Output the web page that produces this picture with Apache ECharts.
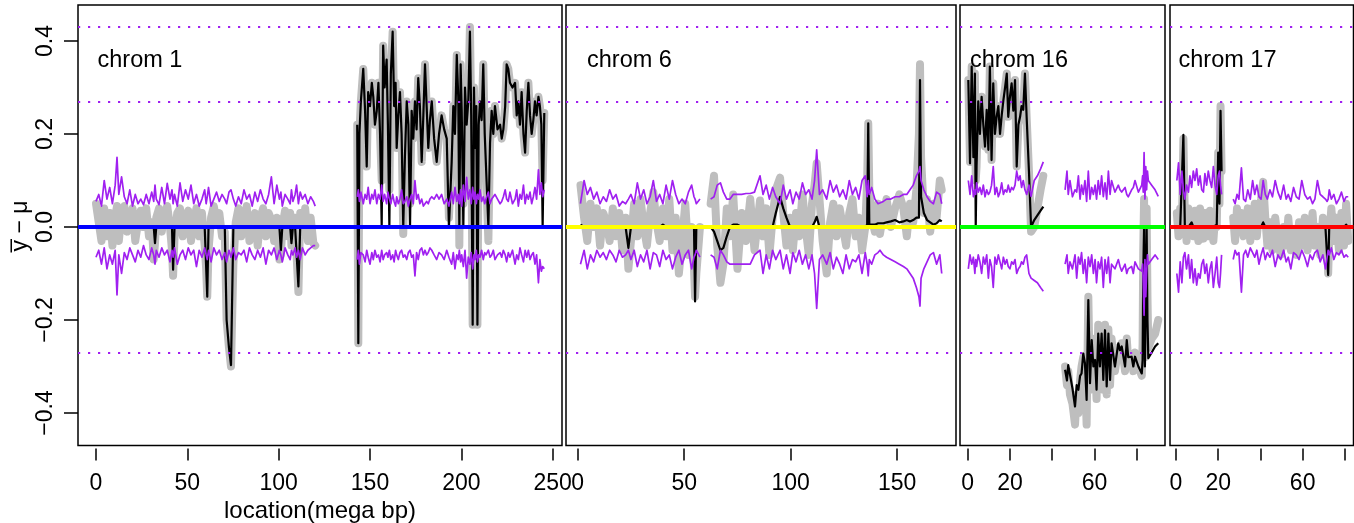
<!DOCTYPE html>
<html><head><meta charset="utf-8">
<script src="https://cdn.jsdelivr.net/npm/echarts@6/dist/echarts.min.js"></script>
<style>html,body{margin:0;padding:0;background:#fff}#c{width:1354px;height:523px}</style>
</head><body><div id="c"></div>
<script>
// ================= DATA =================
const chromNames = ['chrom 1', 'chrom 6', 'chrom 16', 'chrom 17'];
const zeroColors = ['#0000FF', '#FFFF00', '#00FF00', '#FF0000'];
const thresholdLevels = [0.427, 0.271, -0.274];
const zeroLevel = 0;
const yTicks = [-0.4, -0.2, 0, 0.2, 0.4];
const xTicks1 = [0, 50, 100, 150, 200, 250];
const xLabels1 = [0, 50, 100, 150, 200, 250];
const xTicks6 = [0, 50, 100, 150];
const xLabels6 = [0, 50, 100, 150];
const xTicks16 = [0, 20, 40, 60, 80];
const xLabels16 = [0, 20, 60];
const xTicks17 = [0, 20, 40, 60, 80];
const xLabels17 = [0, 20, 60];
const xTitle = 'location(mega bp)';
const yTitle = 'y\u0305 \u2212 \u03bc';

// ---- chrom 1, p arm ----
const chr1aX = [0,1.5,3,4.5,6,7.5,9,10.5,11.5,12.5,
14,15.5,17,18.5,20,21.5,23,24.5,26,27.5,
29,30.5,31.6,32.3,33,34.5,36,37.5,39,40.5,
41.6,42.2,43,44.5,46,47.5,49,50.5,52,53.5,
55,56.5,58,59.5,60.3,60.9,61.6,63,64.5,66,
67.5,69,70.5,71.5,72.8,73.9,75.2,76.5,78,79.5,
81,82.5,84,85.5,87,88.5,90,91.5,93,94.5,
96,97.5,99,100.4,101.2,102,103.5,105,106.3,107,
107.8,109,109.8,110.8,111.8,113,114.5,116,117.5,119,
120];
const chr1aGray = [0.05,0.01,-0.03,0.04,-0.02,0.03,-0.04,0.02,0.045,-0.03,
0.03,0.045,-0.01,0.02,0.04,-0.03,0.01,0.035,0.0,0.04,
-0.02,0.01,-0.07,-0.035,0.02,0.04,-0.01,0.03,0.045,0.0,
-0.05,-0.105,-0.02,0.03,0.04,-0.02,0.02,0.035,-0.03,0.01,
0.04,-0.02,0.03,-0.04,-0.09,-0.15,-0.05,0.02,0.045,0.01,
0.03,-0.02,-0.01,-0.2,-0.26,-0.3,-0.08,0.01,0.04,-0.02,
0.02,0.045,-0.03,0.01,0.03,-0.04,0.02,0.04,-0.02,0.03,
0.015,-0.03,0.02,-0.07,-0.06,0.0,0.035,-0.02,0.03,-0.04,
-0.02,0.02,-0.06,-0.14,0.03,-0.01,0.04,-0.03,0.02,-0.035,
-0.04];
const chr1aBlack = [0,0,0,0,0,0,0,0,0,0,
0,0,0,0,0,0,0,0,0,0,
0,0,0,-0.035,0,0,0,0,0,0,
0,-0.092,0,0,0,0,0,0,0,0,
0,0,0,0,0,-0.15,0,0,0,0,
0,0,0,-0.2,-0.26,-0.297,0,0,0,0,
0,0,0,0,0,0,0,0,0,0,
0,0,0,0,-0.05,0,0,0,0,-0.035,
0,0,0,-0.128,0,0,0,0,0,0,
0];
const chr1aUp = [0.055,0.07,0.045,0.1,0.06,0.085,0.05,0.09,0.15,0.07,
0.108,0.065,0.05,0.08,0.045,0.07,0.05,0.06,0.048,0.07,
0.05,0.075,0.055,0.09,0.06,0.048,0.085,0.05,0.094,0.06,
0.08,0.05,0.07,0.045,0.095,0.055,0.08,0.06,0.09,0.05,
0.07,0.045,0.06,0.08,0.05,0.065,0.085,0.045,0.06,0.075,
0.055,0.07,0.06,0.05,0.075,0.08,0.06,0.045,0.065,0.05,
0.08,0.06,0.07,0.045,0.075,0.055,0.08,0.06,0.05,0.07,
0.108,0.05,0.09,0.06,0.075,0.045,0.07,0.06,0.05,0.08,
0.055,0.07,0.09,0.05,0.075,0.06,0.07,0.05,0.065,0.055,
0.045];
const chr1aLow = [-0.065,-0.05,-0.08,-0.045,-0.09,-0.06,-0.08,-0.05,-0.146,-0.06,
-0.1,-0.055,-0.07,-0.045,-0.06,-0.075,-0.05,-0.065,-0.04,-0.06,
-0.07,-0.045,-0.06,-0.08,-0.05,-0.065,-0.045,-0.06,-0.05,-0.075,
-0.05,-0.065,-0.045,-0.08,-0.06,-0.05,-0.07,-0.045,-0.06,-0.05,
-0.085,-0.05,-0.065,-0.045,-0.06,-0.07,-0.05,-0.075,-0.045,-0.06,
-0.05,-0.07,-0.055,-0.075,-0.05,-0.065,-0.045,-0.07,-0.055,-0.06,
-0.05,-0.075,-0.045,-0.06,-0.07,-0.05,-0.065,-0.045,-0.08,-0.05,
-0.06,-0.045,-0.07,-0.05,-0.06,-0.075,-0.045,-0.06,-0.07,-0.05,
-0.06,-0.045,-0.065,-0.05,-0.07,-0.045,-0.06,-0.05,-0.045,-0.04,
-0.04];

// ---- chrom 1, q arm ----
const chr1bX = [143,143.6,144.2,145,146.3,147.3,148.2,149,150,151,
151.8,152.7,153.7,154.6,155.5,156.4,157.2,158,159.1,159.8,
160.6,161.4,162.4,163.2,164,164.6,165.5,166.4,167.3,168.2,
169.1,170.1,171,171.9,172.8,173.7,174.6,175.5,176.4,177.3,
178.3,179.2,180.1,181,181.9,182.8,183.8,185.1,186.5,187.8,
189.2,190.6,192,193.2,194.7,195.6,196.5,197.5,198.3,198.9,
199.6,200.2,201.1,202,202.9,203.8,204.7,205.4,206.2,206.9,
207.5,208.2,208.8,209.5,210.2,211.1,212,212.8,213.5,214.8,
215.7,216.6,217.5,218.4,219.8,221.2,222.1,223,224,224.8,
225.7,226.6,228,229.4,230.3,231.2,232.1,233,234,234.9,
235.8,236.7,237.6,238.5,239.4,240.3,241.2,242.2,243,243.8,
244.5,245.4];
const chr1bGray = [0.22,-0.25,0.2,0.27,0.34,0.25,0.13,0.29,0.26,0.31,
0.28,0.22,0.25,0.31,0.2,0.1,0.39,0.3,0.36,0.22,
0.08,0.33,0.42,0.26,0.31,0.17,0.24,0.29,0.2,-0.015,
0.15,0.27,0.22,0.05,0.25,0.19,0.27,0.21,0.32,0.26,
0.14,0.24,0.35,0.26,0.17,0.23,0.27,0.19,0.14,0.2,
0.24,0.21,0.19,0.02,0.14,0.26,0.2,0.37,0.28,-0.04,
0.35,0.25,0.05,0.3,0.22,0.27,0.43,0.24,-0.21,0.3,
0.17,0.26,-0.21,0.22,0.27,0.23,0.35,0.2,0.2,-0.03,
0.18,0.25,0.2,0.26,0.21,0.22,0.19,0.21,0.26,0.35,
0.34,0.31,0.3,0.31,0.24,0.27,0.22,0.29,0.2,0.16,
0.25,0.31,0.24,0.2,0.23,0.27,0.24,0.28,0.26,0.22,
0.1,0.245];
const chr1bBlack = [0.22,-0.25,0.2,0.27,0.34,0.25,0.13,0.29,0.26,0.31,
0.28,0.22,0.25,0.31,0.2,0.0,0.39,0.3,0.36,0.22,
0.0,0.33,0.42,0.26,0.31,0.17,0.24,0.29,0.2,0.0,
0.15,0.27,0.22,0.0,0.25,0.19,0.27,0.21,0.32,0.26,
0.14,0.24,0.35,0.26,0.17,0.23,0.27,0.19,0.14,0.2,
0.24,0.21,0.19,0.0,0.14,0.26,0.2,0.37,0.28,0.0,
0.35,0.25,0.0,0.3,0.22,0.27,0.42,0.24,-0.21,0.3,
0.17,0.26,-0.21,0.22,0.27,0.23,0.35,0.2,0.2,0.0,
0.18,0.25,0.2,0.26,0.21,0.22,0.19,0.21,0.26,0.35,
0.34,0.31,0.3,0.31,0.24,0.27,0.22,0.29,0.2,0.16,
0.25,0.31,0.24,0.2,0.23,0.27,0.24,0.28,0.26,0.22,
0.0,0.245];
const chr1bUp = [0.065,0.08,0.055,0.075,0.05,0.07,0.06,0.085,0.05,0.07,
0.06,0.08,0.05,0.07,0.06,0.09,0.055,0.07,0.05,0.075,
0.06,0.05,0.07,0.055,0.045,0.065,0.05,0.06,0.08,0.05,
0.055,0.065,0.045,0.06,0.07,0.05,0.1,0.06,0.07,0.05,
0.06,0.045,0.05,0.055,0.05,0.06,0.065,0.06,0.07,0.06,
0.07,0.05,0.06,0.045,0.075,0.05,0.085,0.055,0.07,0.05,
0.08,0.045,0.09,0.055,0.107,0.06,0.08,0.05,0.085,0.06,
0.075,0.05,0.07,0.06,0.08,0.055,0.065,0.05,0.06,0.075,
0.05,0.06,0.065,0.07,0.06,0.05,0.055,0.065,0.08,0.06,
0.055,0.075,0.05,0.06,0.08,0.045,0.07,0.06,0.09,0.05,
0.07,0.06,0.075,0.05,0.065,0.085,0.06,0.123,0.07,0.095,
0.065,0.08];
const chr1bLow = [-0.07,-0.05,-0.08,-0.055,-0.06,-0.075,-0.05,-0.065,-0.08,-0.055,
-0.07,-0.05,-0.065,-0.06,-0.075,-0.05,-0.07,-0.06,-0.055,-0.065,
-0.05,-0.07,-0.06,-0.075,-0.05,-0.06,-0.07,-0.055,-0.05,-0.065,
-0.06,-0.07,-0.055,-0.05,-0.065,-0.06,-0.105,-0.055,-0.07,-0.05,
-0.045,-0.06,-0.05,-0.06,-0.055,-0.045,-0.05,-0.06,-0.07,-0.055,
-0.06,-0.07,-0.05,-0.065,-0.08,-0.055,-0.09,-0.06,-0.07,-0.05,
-0.075,-0.06,-0.085,-0.05,-0.11,-0.065,-0.08,-0.055,-0.09,-0.06,
-0.07,-0.05,-0.075,-0.06,-0.065,-0.05,-0.07,-0.055,-0.06,-0.05,
-0.065,-0.06,-0.05,-0.07,-0.06,-0.055,-0.065,-0.05,-0.06,-0.075,
-0.055,-0.065,-0.05,-0.08,-0.06,-0.07,-0.045,-0.06,-0.075,-0.05,
-0.065,-0.05,-0.07,-0.06,-0.055,-0.08,-0.06,-0.12,-0.07,-0.095,
-0.085,-0.09];

// ---- chrom 6 ----
const chr6aX = [1.3,3,4.5,6,7.5,9,10.5,12,13.5,15,
16.5,18,19.5,21,22.5,23.8,25,26.5,28,29.5,
31,32.5,34,35.5,37,38.5,40,41.5,43,44.5,
46,47.5,49,50.5,52,53.5,54.6,55.1,55.7,57.4];
const chr6aGray = [0.09,0.02,-0.03,0.05,0.0,0.04,-0.04,0.03,0.01,-0.03,
0.04,-0.02,0.03,-0.05,0.02,-0.09,-0.03,0.05,-0.02,0.06,
0.0,-0.04,0.03,0.075,0.01,-0.03,0.04,-0.02,0.06,-0.05,
0.02,-0.1,-0.03,0.05,-0.06,0.0,-0.09,-0.15,-0.1,0.0];
const chr6aBlack = [0.005,0,0,0,0,0,0,0,0,0,
0,0,0,0,0,-0.045,0,0,0,0,
0,0,0,0,0,0,0.005,0,0,0,
0,0,0,0,0,0,0,-0.16,0,0];
const chr6aUp = [0.05,0.1,0.07,0.085,0.06,0.075,0.05,0.065,0.055,0.08,
0.06,0.07,0.045,0.055,0.05,0.06,0.07,0.05,0.095,0.06,
0.08,0.05,0.065,0.1,0.055,0.07,0.05,0.09,0.06,0.1,
0.07,0.05,0.06,0.05,0.075,0.09,0.065,0.06,0.05,0.06];
const chr6aLow = [-0.08,-0.05,-0.09,-0.06,-0.075,-0.05,-0.065,-0.055,-0.07,-0.05,
-0.06,-0.075,-0.05,-0.065,-0.06,-0.05,-0.07,-0.05,-0.085,-0.06,
-0.075,-0.05,-0.09,-0.055,-0.06,-0.085,-0.05,-0.07,-0.06,-0.09,
-0.065,-0.05,-0.08,-0.06,-0.05,-0.09,-0.065,-0.06,-0.05,-0.065];
const chr6bX = [62.4,64,65.5,67,68.4,70,71.5,73,75,77,
79,81,83,85.6,87,88.5,90,91.5,93,95,
96.5,98,99.7,101,102.5,104,105.5,107,108.5,110,
111.2,112.2,113.5,115,116.9,118.5,120,121.5,123,124.5,
126,127.5,129,130.5,132,133.5,135,135.9,136.4,136.9,
138,139.5,141,141.9,143.5,145,147,149,151,152.9,
154.5,156,157.5,159,160.2,160.7,161.2,162.5,164,165.5,
167,168.5,170,170.9];
const chr6bGray = [0.05,0.11,-0.04,-0.12,-0.08,0.04,-0.02,0.07,-0.09,0.03,
-0.03,0.06,-0.05,0.057,-0.02,0.04,-0.06,0.02,0.08,0.106,
0.03,-0.04,0.02,-0.05,0.03,-0.02,0.07,0.0,-0.06,0.05,
0.09,0.137,0.06,-0.03,-0.1,0.01,0.05,-0.02,0.04,0.0,
-0.04,0.03,0.06,-0.02,0.02,-0.05,0.0,0.1,0.223,0.08,
0.02,-0.01,0.05,-0.015,0.03,0.06,0.0,0.04,0.07,0.04,
-0.02,0.05,0.01,0.08,0.2,0.35,0.15,0.03,0.06,-0.01,
0.05,0.02,0.1,0.08];
const chr6bBlack = [0,-0.01,-0.03,-0.05,-0.045,-0.02,0,0.005,0.005,0,
0,0,0,0,0,0,0,0,0.03,0.065,
0.04,0.02,0,0,0,0,0,0,0,0,
0.01,0.022,0,0,0,0,0,0,0,0,
0,0,0,0,0,0,0,0.005,0.223,0.005,
0.005,0.005,0.008,0.01,0.008,0.01,0.012,0.015,0.01,0.012,
0.015,0.012,0.015,0.02,0.02,0.316,0.065,0.03,0.015,0.01,
0.005,0.008,0.015,0.012];
const chr6bUp = [0.06,0.065,0.09,0.095,0.075,0.06,0.06,0.07,0.07,0.07,
0.072,0.072,0.075,0.11,0.07,0.09,0.06,0.085,0.065,0.05,
0.09,0.06,0.08,0.05,0.075,0.06,0.095,0.07,0.08,0.06,
0.1,0.166,0.07,0.08,0.06,0.1,0.075,0.09,0.065,0.08,
0.06,0.1,0.07,0.085,0.06,0.1,0.11,0.065,0.1,0.07,
0.085,0.06,0.05,0.05,0.055,0.06,0.06,0.065,0.065,0.07,
0.07,0.08,0.09,0.11,0.12,0.13,0.1,0.08,0.065,0.055,
0.05,0.075,0.07,0.05];
const chr6bLow = [-0.06,-0.065,-0.09,-0.05,-0.06,-0.075,-0.08,-0.08,-0.08,-0.08,
-0.08,-0.08,-0.06,-0.05,-0.1,-0.06,-0.09,-0.05,-0.07,-0.05,
-0.09,-0.06,-0.1,-0.055,-0.075,-0.05,-0.08,-0.06,-0.09,-0.06,
-0.1,-0.175,-0.07,-0.06,-0.08,-0.055,-0.09,-0.065,-0.08,-0.1,
-0.06,-0.09,-0.07,-0.075,-0.06,-0.1,-0.055,-0.08,-0.105,-0.07,
-0.08,-0.06,-0.055,-0.05,-0.06,-0.065,-0.07,-0.075,-0.08,-0.085,
-0.09,-0.1,-0.11,-0.13,-0.15,-0.17,-0.11,-0.09,-0.075,-0.06,
-0.055,-0.08,-0.06,-0.1];

// ---- chrom 16 ----
const chr16aX = [0.3,1.1,1.9,2.7,3.4,3.8,4.2,5.0,5.8,6.6,
7.4,8.2,9.0,9.8,10.5,11.3,12.1,12.9,13.7,14.5,
15.3,16.1,16.9,17.7,18.5,19.2,20.0,20.8,21.6,22.4,
23.2,24.0,24.8,25.5,26.3,27.1,27.9,29.0,30.0,31.5,
33,34.5,35.8];
const chr16aGray = [0.316,0.14,0.345,0.15,0.33,0.1,0.13,0.27,0.2,0.28,
0.22,0.173,0.252,0.166,0.345,0.144,0.309,0.2,0.237,0.26,
0.2,0.24,0.273,0.3,0.33,0.237,0.28,0.309,0.25,0.316,
0.13,0.22,0.237,0.26,0.252,0.33,0.237,0.12,-0.01,0.0,
0.04,0.08,0.11];
const chr16aBlack = [0.316,0.137,0.345,0.15,0.33,0.0,0.13,0.27,0.2,0.28,
0.22,0.173,0.252,0.166,0.345,0.144,0.309,0.2,0.237,0.26,
0.2,0.24,0.273,0.3,0.33,0.237,0.28,0.309,0.25,0.316,
0.13,0.22,0.237,0.26,0.252,0.33,0.237,0.12,0.0,0.015,
0.025,0.035,0.044];
const chr16aUp = [0.1,0.07,0.11,0.065,0.08,0.07,0.095,0.075,0.085,0.07,
0.09,0.065,0.08,0.07,0.075,0.09,0.13,0.07,0.085,0.065,
0.075,0.095,0.07,0.08,0.075,0.09,0.075,0.085,0.08,0.09,
0.12,0.1,0.11,0.085,0.1,0.08,0.07,0.09,0.066,0.1,
0.11,0.125,0.14];
const chr16aLow = [-0.09,-0.06,-0.08,-0.065,-0.1,-0.07,-0.085,-0.06,-0.075,-0.1,
-0.065,-0.08,-0.06,-0.11,-0.07,-0.085,-0.13,-0.065,-0.08,-0.06,
-0.075,-0.09,-0.065,-0.08,-0.07,-0.085,-0.09,-0.075,-0.08,-0.07,
-0.1,-0.09,-0.085,-0.075,-0.08,-0.065,-0.06,-0.1,-0.11,-0.115,
-0.12,-0.13,-0.138];
const chr16bX = [46.1,47.0,47.6,48.4,49.6,50.8,51.6,52.4,53.2,53.9,
54.7,55.5,56.3,57.1,57.9,58.7,59.5,60.3,61.0,61.8,
62.6,63.4,64.2,65.0,65.8,66.6,67.4,68.1,69.7,71.3,
72.1,72.9,74.5,75.3,76.0,77.6,78.4,79.2,80.8,82.4,
82.8,83.1,83.5,83.9,84.3,84.7,85.1,85.5,87.1,88.7,
90.2];
const chr16bGray = [-0.3,-0.34,-0.31,-0.36,-0.38,-0.425,-0.36,-0.4,-0.33,-0.3,
-0.28,-0.31,-0.425,-0.15,-0.35,-0.24,-0.31,-0.28,-0.37,-0.21,
-0.31,-0.22,-0.35,-0.21,-0.36,-0.22,-0.34,-0.24,-0.31,-0.26,
-0.27,-0.25,-0.31,-0.24,-0.29,-0.28,-0.31,-0.27,-0.3,-0.32,
-0.25,-0.05,0.06,-0.28,-0.1,0.04,-0.15,-0.26,-0.24,-0.23,
-0.2];
const chr16bBlack = [-0.307,-0.33,-0.297,-0.3,-0.347,-0.386,-0.34,-0.35,-0.32,-0.315,
-0.272,-0.293,-0.372,-0.157,-0.336,-0.243,-0.3,-0.286,-0.35,-0.229,
-0.3,-0.229,-0.329,-0.222,-0.343,-0.229,-0.329,-0.25,-0.3,-0.25,
-0.265,-0.257,-0.3,-0.243,-0.28,-0.279,-0.3,-0.279,-0.3,-0.315,
-0.286,-0.1,0.0,-0.3,-0.15,0.0,-0.2,-0.282,-0.27,-0.257,
-0.25];
const chr16bUp = [0.08,0.12,0.07,0.1,0.065,0.08,0.075,0.11,0.06,0.09,
0.07,0.1,0.055,0.12,0.06,0.085,0.07,0.09,0.06,0.1,
0.07,0.11,0.065,0.095,0.06,0.12,0.07,0.1,0.075,0.09,
0.08,0.075,0.085,0.07,0.065,0.08,0.085,0.1,0.075,0.09,
0.11,0.075,0.16,0.06,0.13,0.08,0.12,0.1,0.09,0.08,
0.066];
const chr16bLow = [-0.08,-0.06,-0.1,-0.075,-0.09,-0.06,-0.11,-0.065,-0.08,-0.055,
-0.1,-0.07,-0.12,-0.065,-0.085,-0.06,-0.1,-0.07,-0.12,-0.075,
-0.09,-0.065,-0.13,-0.07,-0.1,-0.065,-0.12,-0.08,-0.09,-0.07,
-0.085,-0.095,-0.08,-0.1,-0.09,-0.085,-0.1,-0.075,-0.09,-0.095,
-0.08,-0.12,-0.19,-0.07,-0.15,-0.1,-0.06,-0.08,-0.07,-0.06,
-0.07];

// ---- chrom 17 ----
const chr17aX = [0.4,1.2,2.0,2.8,3.5,4.2,5.0,5.9,6.6,7.4,
8.2,9.0,9.8,10.6,11.4,12.2,13.0,13.7,14.5,15.3,
16.1,16.9,17.7,18.5,19.3,20.0,20.6,21.1,21.6];
const chr17aGray = [0.03,-0.02,0.04,0.0,0.19,0.02,-0.03,0.04,0.01,0.03,
-0.02,0.035,0.0,-0.03,0.04,0.01,-0.025,0.03,0.0,-0.02,
0.035,0.01,-0.03,0.02,0.0,0.16,0.05,0.26,0.12];
const chr17aBlack = [0,0,0,0,0.198,0,0,0,0,0.01,
0,0,0,0,0,0,0,0,0,0,
0,0,0,0,0.005,0.16,0.05,0.25,0.12];
const chr17aUp = [0.1,0.138,0.07,0.12,0.08,0.06,0.09,0.075,0.11,0.085,
0.12,0.1,0.125,0.09,0.11,0.08,0.075,0.115,0.09,0.12,
0.1,0.085,0.13,0.09,0.07,0.11,0.12,0.09,0.07];
const chr17aLow = [-0.1,-0.14,-0.075,-0.12,-0.065,-0.055,-0.09,-0.06,-0.11,-0.07,
-0.12,-0.09,-0.125,-0.1,-0.11,-0.08,-0.07,-0.1,-0.08,-0.12,
-0.09,-0.075,-0.13,-0.1,-0.065,-0.12,-0.13,-0.1,-0.06];
const chr17bX = [27.1,28,28.9,29.8,31.0,32,33,34,35.2,36.3,
37.3,38.3,39.3,40.3,41.3,42.3,43.3,44.5,45.7,47,
48.3,49.6,51,52.2,53.2,54.4,55.7,57,58.3,59.6,
61,62.3,63.5,64.7,65.8,67,68.3,69.6,70.8,71.6,
72.1,72.6,73.6,74.8,76,77.2,78.4,79.6,80.6,81.6];
const chr17bGray = [0.02,-0.03,0.04,-0.01,0.03,-0.02,0.0,0.04,-0.03,0.01,
0.05,-0.02,0.03,0.06,0.097,0.02,-0.04,0.01,-0.05,0.02,
-0.03,-0.06,0.0,-0.04,0.02,-0.05,-0.01,-0.06,0.01,-0.04,
0.02,-0.05,-0.02,0.03,-0.04,0.0,-0.06,0.02,-0.03,0.0,
-0.1,-0.02,0.04,-0.03,0.02,-0.05,0.03,-0.04,0.05,-0.03];
const chr17bBlack = [0,0,0,0,0,0,0,0,0,0,
0,0,0,0,0.01,0,0,0,0,0,
0,0,0,0,0,0,0,0,0,0,
0,0,0,0,0,0,0,0,0,0,
-0.103,0,0,0,0,0,0,0,0.005,0];
const chr17bUp = [0.06,0.05,0.07,0.06,0.127,0.06,0.055,0.08,0.06,0.1,
0.07,0.09,0.065,0.06,0.1,0.07,0.06,0.08,0.065,0.1,
0.075,0.06,0.09,0.06,0.07,0.055,0.085,0.065,0.06,0.1,
0.07,0.06,0.065,0.05,0.06,0.1,0.07,0.065,0.06,0.055,
0.06,0.08,0.06,0.07,0.05,0.06,0.075,0.055,0.065,0.065];
const chr17bLow = [-0.07,-0.05,-0.06,-0.055,-0.14,-0.06,-0.05,-0.065,-0.045,-0.055,
-0.065,-0.05,-0.08,-0.06,-0.045,-0.07,-0.055,-0.065,-0.05,-0.085,
-0.06,-0.07,-0.05,-0.075,-0.065,-0.09,-0.055,-0.06,-0.07,-0.05,
-0.065,-0.085,-0.06,-0.07,-0.055,-0.05,-0.075,-0.06,-0.09,-0.065,
-0.05,-0.06,-0.045,-0.07,-0.055,-0.06,-0.05,-0.065,-0.06,-0.065];

// ================= LAYOUT =================
const FONT = '"Liberation Sans", Arial, Helvetica, sans-serif';
const Y_MIN = -0.4699, Y_MAX = 0.4774;
const panels = [
  {left: 78,   width: 484,   xmin: -9.85, xmax: 255.1, ticks: xTicks1,  labels: xLabels1,  titleX: 97.5},
  {left: 566,  width: 390,   xmin: -5.49, xmax: 177.6, ticks: xTicks6,  labels: xLabels6,  titleX: 587},
  {left: 960,  width: 205,   xmin: -3.64, xmax: 93.4,  ticks: xTicks16, labels: xLabels16, titleX: 970},
  {left: 1170, width: 183.5, xmin: -2.84, xmax: 84.1,  ticks: xTicks17, labels: xLabels17, titleX: 1178.5}
];
const GRID_TOP = 5, GRID_H = 440.5;

const chroms = [
  {gray: [[chr1aX, chr1aGray], [chr1bX, chr1bGray]], black: [[chr1aX, chr1aBlack], [chr1bX, chr1bBlack]],
   up: [[chr1aX, chr1aUp], [chr1bX, chr1bUp]], low: [[chr1aX, chr1aLow], [chr1bX, chr1bLow]]},
  {gray: [[chr6aX, chr6aGray], [chr6bX, chr6bGray]], black: [[chr6aX, chr6aBlack], [chr6bX, chr6bBlack]],
   up: [[chr6aX, chr6aUp], [chr6bX, chr6bUp]], low: [[chr6aX, chr6aLow], [chr6bX, chr6bLow]]},
  {gray: [[chr16aX, chr16aGray], [chr16bX, chr16bGray]], black: [[chr16aX, chr16aBlack], [chr16bX, chr16bBlack]],
   up: [[chr16aX, chr16aUp], [chr16bX, chr16bUp]], low: [[chr16aX, chr16aLow], [chr16bX, chr16bLow]]},
  {gray: [[chr17aX, chr17aGray], [chr17bX, chr17bGray]], black: [[chr17aX, chr17aBlack], [chr17bX, chr17bBlack]],
   up: [[chr17aX, chr17aUp], [chr17bX, chr17bUp]], low: [[chr17aX, chr17aLow], [chr17bX, chr17bLow]]}
];

const problems = [];
chroms.forEach((c, ci) => ['gray', 'black', 'up', 'low'].forEach(k => c[k].forEach((s, si) => {
  if (s[0].length !== s[1].length) problems.push(chromNames[ci] + ' ' + k + si + ': ' + s[0].length + '/' + s[1].length);
})));

function joined(segs) {
  let out = [];
  segs.forEach((s, k) => {
    if (k > 0) out.push([s[0][0], '-']);
    s[0].forEach((x, i) => out.push([x, s[1][i]]));
  });
  return out;
}

const grid = [], xAxis = [], yAxis = [], series = [];
panels.forEach((p, i) => {
  grid.push({left: p.left, top: GRID_TOP, width: p.width, height: GRID_H, show: true,
    borderColor: '#000', borderWidth: 1.5, backgroundColor: 'transparent', containLabel: false});
  xAxis.push({type: 'value', gridIndex: i, min: p.xmin, max: p.xmax, offset: 3, position: 'bottom',
    axisLine: {show: false, onZero: false}, splitLine: {show: false},
    axisTick: {show: true, customValues: p.ticks, length: 12, lineStyle: {color: '#000', width: 1.5}},
    axisLabel: {customValues: p.labels, fontSize: 23, color: '#000', fontFamily: FONT, margin: 24,
      formatter: v => String(v)}});
  yAxis.push({type: 'value', gridIndex: i, min: Y_MIN, max: Y_MAX, show: i === 0, position: 'left',
    axisLine: {show: false, onZero: false}, splitLine: {show: false},
    axisTick: {show: i === 0, customValues: yTicks, length: 14, lineStyle: {color: '#000', width: 1.5}},
    axisLabel: {show: i === 0, customValues: yTicks, rotate: 90, fontSize: 23, color: '#000', fontFamily: FONT, margin: 21,
      formatter: v => (v < 0 ? '\u2212' : '') + Math.abs(v).toFixed(1)}});
  const c = chroms[i];
  const base = {type: 'line', xAxisIndex: i, yAxisIndex: i, showSymbol: false, symbol: 'none',
    animation: false, silent: true, emphasis: {disabled: true}, connectNulls: false};
  series.push(Object.assign({}, base, {data: joined(c.gray), z: 1,
    lineStyle: {color: '#BEBEBE', width: 8, cap: 'round', join: 'round'}}));
  series.push(Object.assign({}, base, {data: joined(c.black), z: 2,
    lineStyle: {color: '#000000', width: 2.2, join: 'round'}}));
  series.push(Object.assign({}, base, {data: [], z: 3,
    markLine: {silent: true, animation: false, symbol: ['none', 'none'], label: {show: false},
      lineStyle: {color: zeroColors[i], width: 4, type: 'solid'}, data: [{yAxis: zeroLevel}]}}));
  series.push(Object.assign({}, base, {data: joined(c.up), z: 4,
    lineStyle: {color: '#A020F0', width: 1.7, join: 'round'}}));
  series.push(Object.assign({}, base, {data: joined(c.low), z: 4,
    lineStyle: {color: '#A020F0', width: 1.7, join: 'round'}}));
  series.push(Object.assign({}, base, {data: [], z: 5,
    markLine: {silent: true, animation: false, symbol: ['none', 'none'], label: {show: false},
      lineStyle: {color: '#A020F0', width: 2.2, type: [2.2, 7.8], cap: 'butt'},
      data: thresholdLevels.map(v => ({yAxis: v}))}}));
});

const graphic = [];
panels.forEach((p, i) => graphic.push({type: 'text', x: p.titleX, y: 60.5, z: 10,
  style: {text: chromNames[i], fontSize: 23.5, fontFamily: FONT, fill: '#000', align: 'left', verticalAlign: 'middle'}}));
graphic.push({type: 'text', x: 320, y: 511, z: 10,
  style: {text: xTitle, fontSize: 24, fontFamily: FONT, fill: '#000', align: 'center', verticalAlign: 'middle'}});
graphic.push({type: 'text', x: 21, y: 226, rotation: Math.PI / 2, z: 10,
  style: {text: yTitle, fontSize: 23, fontFamily: FONT, fill: '#000', align: 'center', verticalAlign: 'middle'}});
if (problems.length) graphic.push({type: 'text', x: 600, y: 470, z: 20,
  style: {text: problems.join(' | '), fontSize: 12, fill: 'red'}});

const chart = echarts.init(document.getElementById('c'), null, {renderer: 'canvas'});
chart.setOption({backgroundColor: '#fff', animation: false, grid, xAxis, yAxis, series, graphic});
</script>
</body></html>
